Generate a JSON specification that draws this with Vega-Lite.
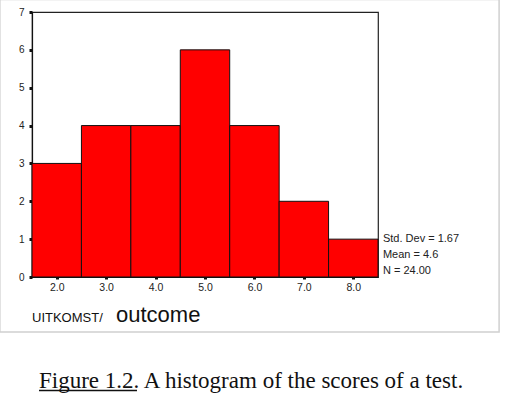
{
  "$schema": "https://vega.github.io/schema/vega-lite/v6.json",
  "autosize": "none",
  "width": 346,
  "height": 265,
  "padding": {"left": 32, "top": 12, "right": 147, "bottom": 122},
  "background": "white",
  "config": {
    "view": {"stroke": "#222", "strokeWidth": 1.2},
    "font": "Liberation Sans",
    "axis": {
      "grid": false, "domainColor": "#111", "domainWidth": 1.2,
      "tickColor": "#111", "tickWidth": 3,
      "labelColor": "#222", "labelOverlap": false, "labelFlush": false,
      "title": null
    },
    "axisY": {"tickSize": 3, "labelPadding": 5, "labelFontSize": 10},
    "axisX": {"tickSize": 2, "labelPadding": 3, "labelFontSize": 10.5}
  },
  "layer": [
    {
      "data": {"values": [
        {"lo": 1.5, "hi": 2.5, "count": 3},
        {"lo": 2.5, "hi": 3.5, "count": 4},
        {"lo": 3.5, "hi": 4.5, "count": 4},
        {"lo": 4.5, "hi": 5.5, "count": 6},
        {"lo": 5.5, "hi": 6.5, "count": 4},
        {"lo": 6.5, "hi": 7.5, "count": 2},
        {"lo": 7.5, "hi": 8.5, "count": 1}
      ]},
      "mark": {"type": "rect", "fill": "#ff0000", "stroke": "#111", "strokeWidth": 1},
      "encoding": {
        "x": {
          "field": "lo", "type": "quantitative",
          "scale": {"domain": [1.5, 8.5], "nice": false, "zero": false},
          "axis": {"title": null, "values": [2, 3, 4, 5, 6, 7, 8], "format": ".1f"}
        },
        "x2": {"field": "hi"},
        "y": {
          "field": "count", "type": "quantitative",
          "scale": {"domain": [0, 7], "nice": false},
          "axis": {"title": null, "values": [0, 1, 2, 3, 4, 5, 6, 7], "format": "d"}
        },
        "y2": {"datum": 0}
      }
    },
    {
      "data": {"values": [{}]},
      "mark": {"type": "rect", "fill": null, "stroke": "#d0d0d0", "strokeWidth": 1.5, "clip": false},
      "encoding": {
        "x": {"datum": 0.85, "type": "quantitative", "axis": {"title": null, "values": [2, 3, 4, 5, 6, 7, 8], "format": ".1f"}},
        "x2": {"datum": 10.95},
        "y": {"datum": 7.33, "type": "quantitative", "axis": {"title": null, "values": [0, 1, 2, 3, 4, 5, 6, 7], "format": "d"}},
        "y2": {"datum": -1.45}
      }
    },
    {
      "data": {"values": [{}]},
      "mark": {"type": "text", "text": ["Std. Dev = 1.67", "Mean = 4.6", "N = 24.00"], "lineHeight": 16, "align": "left", "baseline": "top", "fontSize": 11, "color": "#222", "clip": false},
      "encoding": {
        "x": {"datum": 8.6, "type": "quantitative", "axis": {"title": null, "values": [2, 3, 4, 5, 6, 7, 8], "format": ".1f"}},
        "y": {"datum": 1.15, "type": "quantitative", "axis": {"title": null, "values": [0, 1, 2, 3, 4, 5, 6, 7], "format": "d"}}
      }
    },
    {
      "data": {"values": [{}]},
      "mark": {"type": "text", "text": "UITKOMST/", "align": "left", "baseline": "alphabetic", "fontSize": 13, "color": "#111", "clip": false},
      "encoding": {
        "x": {"datum": 1.5, "type": "quantitative", "axis": {"title": null, "values": [2, 3, 4, 5, 6, 7, 8], "format": ".1f"}},
        "y": {"datum": -1.18, "type": "quantitative", "axis": {"title": null, "values": [0, 1, 2, 3, 4, 5, 6, 7], "format": "d"}}
      }
    },
    {
      "data": {"values": [{}]},
      "mark": {"type": "text", "text": "outcome", "align": "left", "baseline": "alphabetic", "fontSize": 22, "color": "#111", "clip": false},
      "encoding": {
        "x": {"datum": 3.2, "type": "quantitative", "axis": {"title": null, "values": [2, 3, 4, 5, 6, 7, 8], "format": ".1f"}},
        "y": {"datum": -1.18, "type": "quantitative", "axis": {"title": null, "values": [0, 1, 2, 3, 4, 5, 6, 7], "format": "d"}}
      }
    },
    {
      "data": {"values": [{}]},
      "mark": {"type": "text", "text": "Figure 1.2. A histogram of the scores of a test.", "align": "left", "baseline": "alphabetic", "font": "Liberation Serif", "fontSize": 23, "color": "#111", "clip": false},
      "encoding": {
        "x": {"datum": 1.642, "type": "quantitative", "axis": {"title": null, "values": [2, 3, 4, 5, 6, 7, 8], "format": ".1f"}},
        "y": {"datum": -2.93, "type": "quantitative", "axis": {"title": null, "values": [0, 1, 2, 3, 4, 5, 6, 7], "format": "d"}}
      }
    },
    {
      "data": {"values": [{}]},
      "mark": {"type": "rule", "stroke": "#111", "strokeWidth": 1.5, "clip": false},
      "encoding": {
        "x": {"datum": 1.642, "type": "quantitative", "axis": {"title": null, "values": [2, 3, 4, 5, 6, 7, 8], "format": ".1f"}},
        "x2": {"datum": 3.624},
        "y": {"datum": -3.0, "type": "quantitative", "axis": {"title": null, "values": [0, 1, 2, 3, 4, 5, 6, 7], "format": "d"}}
      }
    }
  ]
}
